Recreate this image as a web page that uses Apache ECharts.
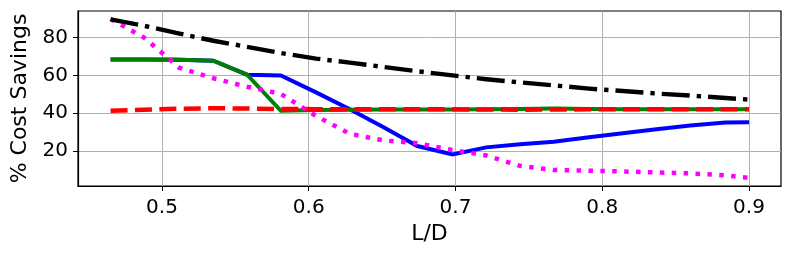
<!DOCTYPE html>
<html>
<head>
<meta charset="utf-8">
<script src="https://cdn.jsdelivr.net/npm/echarts@6/dist/echarts.min.js"></script>
<style>
html,body{margin:0;padding:0;background:#fff;}
#chart{width:793px;height:258px;}
</style>
</head>
<body>
<div id="chart"></div>
<script>
const ldValues = [0.465, 0.488, 0.512, 0.535, 0.558, 0.581, 0.605, 0.628, 0.651, 0.674, 0.698, 0.721, 0.744, 0.767, 0.791, 0.814, 0.837, 0.860, 0.884, 0.900];
const blueSeries = [68.4, 68.4, 68.3, 67.8, 60.4, 60.0, 51.0, 42.0, 32.5, 22.5, 18.0, 21.8, 23.5, 24.8, 27.2, 29.3, 31.4, 33.4, 35.0, 35.2];
const greenSeries = [68.4, 68.4, 68.3, 67.8, 60.4, 41.2, 41.6, 41.8, 41.9, 41.9, 41.9, 42.0, 42.2, 42.4, 42.2, 42.0, 42.0, 42.0, 42.0, 42.0];
const redSeries = [41.3, 41.8, 42.3, 42.6, 42.4, 42.2, 42.1, 42.0, 42.0, 42.0, 42.0, 41.9, 41.8, 41.9, 42.0, 42.0, 42.0, 42.0, 42.0, 42.0];
const magentaSeries = [90.0, 80.0, 64.0, 58.5, 54.0, 50.2, 38.5, 29.0, 25.5, 24.0, 20.4, 17.5, 12.0, 9.8, 9.4, 9.0, 8.5, 8.0, 7.0, 5.6];
const blackSeries = [89.8, 86.3, 82.2, 78.4, 75.2, 71.9, 68.9, 66.8, 64.5, 62.2, 60.0, 58.0, 56.3, 54.7, 53.0, 51.7, 50.4, 49.3, 48.0, 47.2];
const xTicks = [0.5, 0.6, 0.7, 0.8, 0.9];
const yTicks = [20, 40, 60, 80];

function pairs(ys){ return ldValues.map((x,i)=>[x, ys[i]]); }

const font = 'DejaVu Sans';
const chart = echarts.init(document.getElementById('chart'), null, {renderer:'canvas'});
function mk(name, data, color, width, dash, z){
  return {name, type:'line', data:pairs(data), showSymbol:false, symbol:'none', z,
    lineStyle:{color, width, type:dash, cap:'butt', join:'miter'}, animation:false};
}
chart.setOption({
  animation:false,
  grid:{left:78, right:12, top:11, bottom:72, show:true, borderColor:'#000', borderWidth:1.2, backgroundColor:'transparent'},
  xAxis:{type:'value', min:0.4428, max:0.9218, interval:0.1,
    name:'L/D', nameLocation:'middle', nameGap:33,
    nameTextStyle:{fontFamily:font, fontSize:22, color:'#000'},
    axisLine:{show:true, onZero:false, lineStyle:{color:'#000', width:1.2}},
    axisTick:{show:true, length:5, customValues:xTicks, lineStyle:{color:'#000', width:1}},
    axisLabel:{customValues:xTicks, margin:12, fontFamily:font, fontSize:20, color:'#000',
      formatter:(v)=>v.toFixed(1)},
    splitLine:{show:true, lineStyle:{color:'#b0b0b0', width:1}}
  },
  yAxis:{type:'value', min:1.3, max:94.2, interval:20,
    name:'% Cost Savings', nameLocation:'middle', nameGap:45, nameRotate:90,
    nameTextStyle:{fontFamily:font, fontSize:22, color:'#000'},
    axisLine:{show:true, onZero:false, lineStyle:{color:'#000', width:1.2}},
    axisTick:{show:true, length:5, customValues:yTicks, lineStyle:{color:'#000', width:1}},
    axisLabel:{customValues:yTicks, margin:10, fontFamily:font, fontSize:20, color:'#000',
      formatter:(v)=>String(Math.round(v))},
    splitLine:{show:true, lineStyle:{color:'#b0b0b0', width:1}}
  },
  series:[
    mk('blue', blueSeries, '#0000ff', 4, 'solid', 2),
    mk('green', greenSeries, '#008000', 4, 'solid', 3),
    mk('red', redSeries, '#ff0000', 4.5, [17,7.4], 4),
    mk('magenta', magentaSeries, '#ff00ff', 4.5, [4.5,7.4], 5),
    mk('black', blackSeries, '#000000', 4.4, [28,7,4.4,7], 6)
  ]
});
</script>
</body>
</html>
